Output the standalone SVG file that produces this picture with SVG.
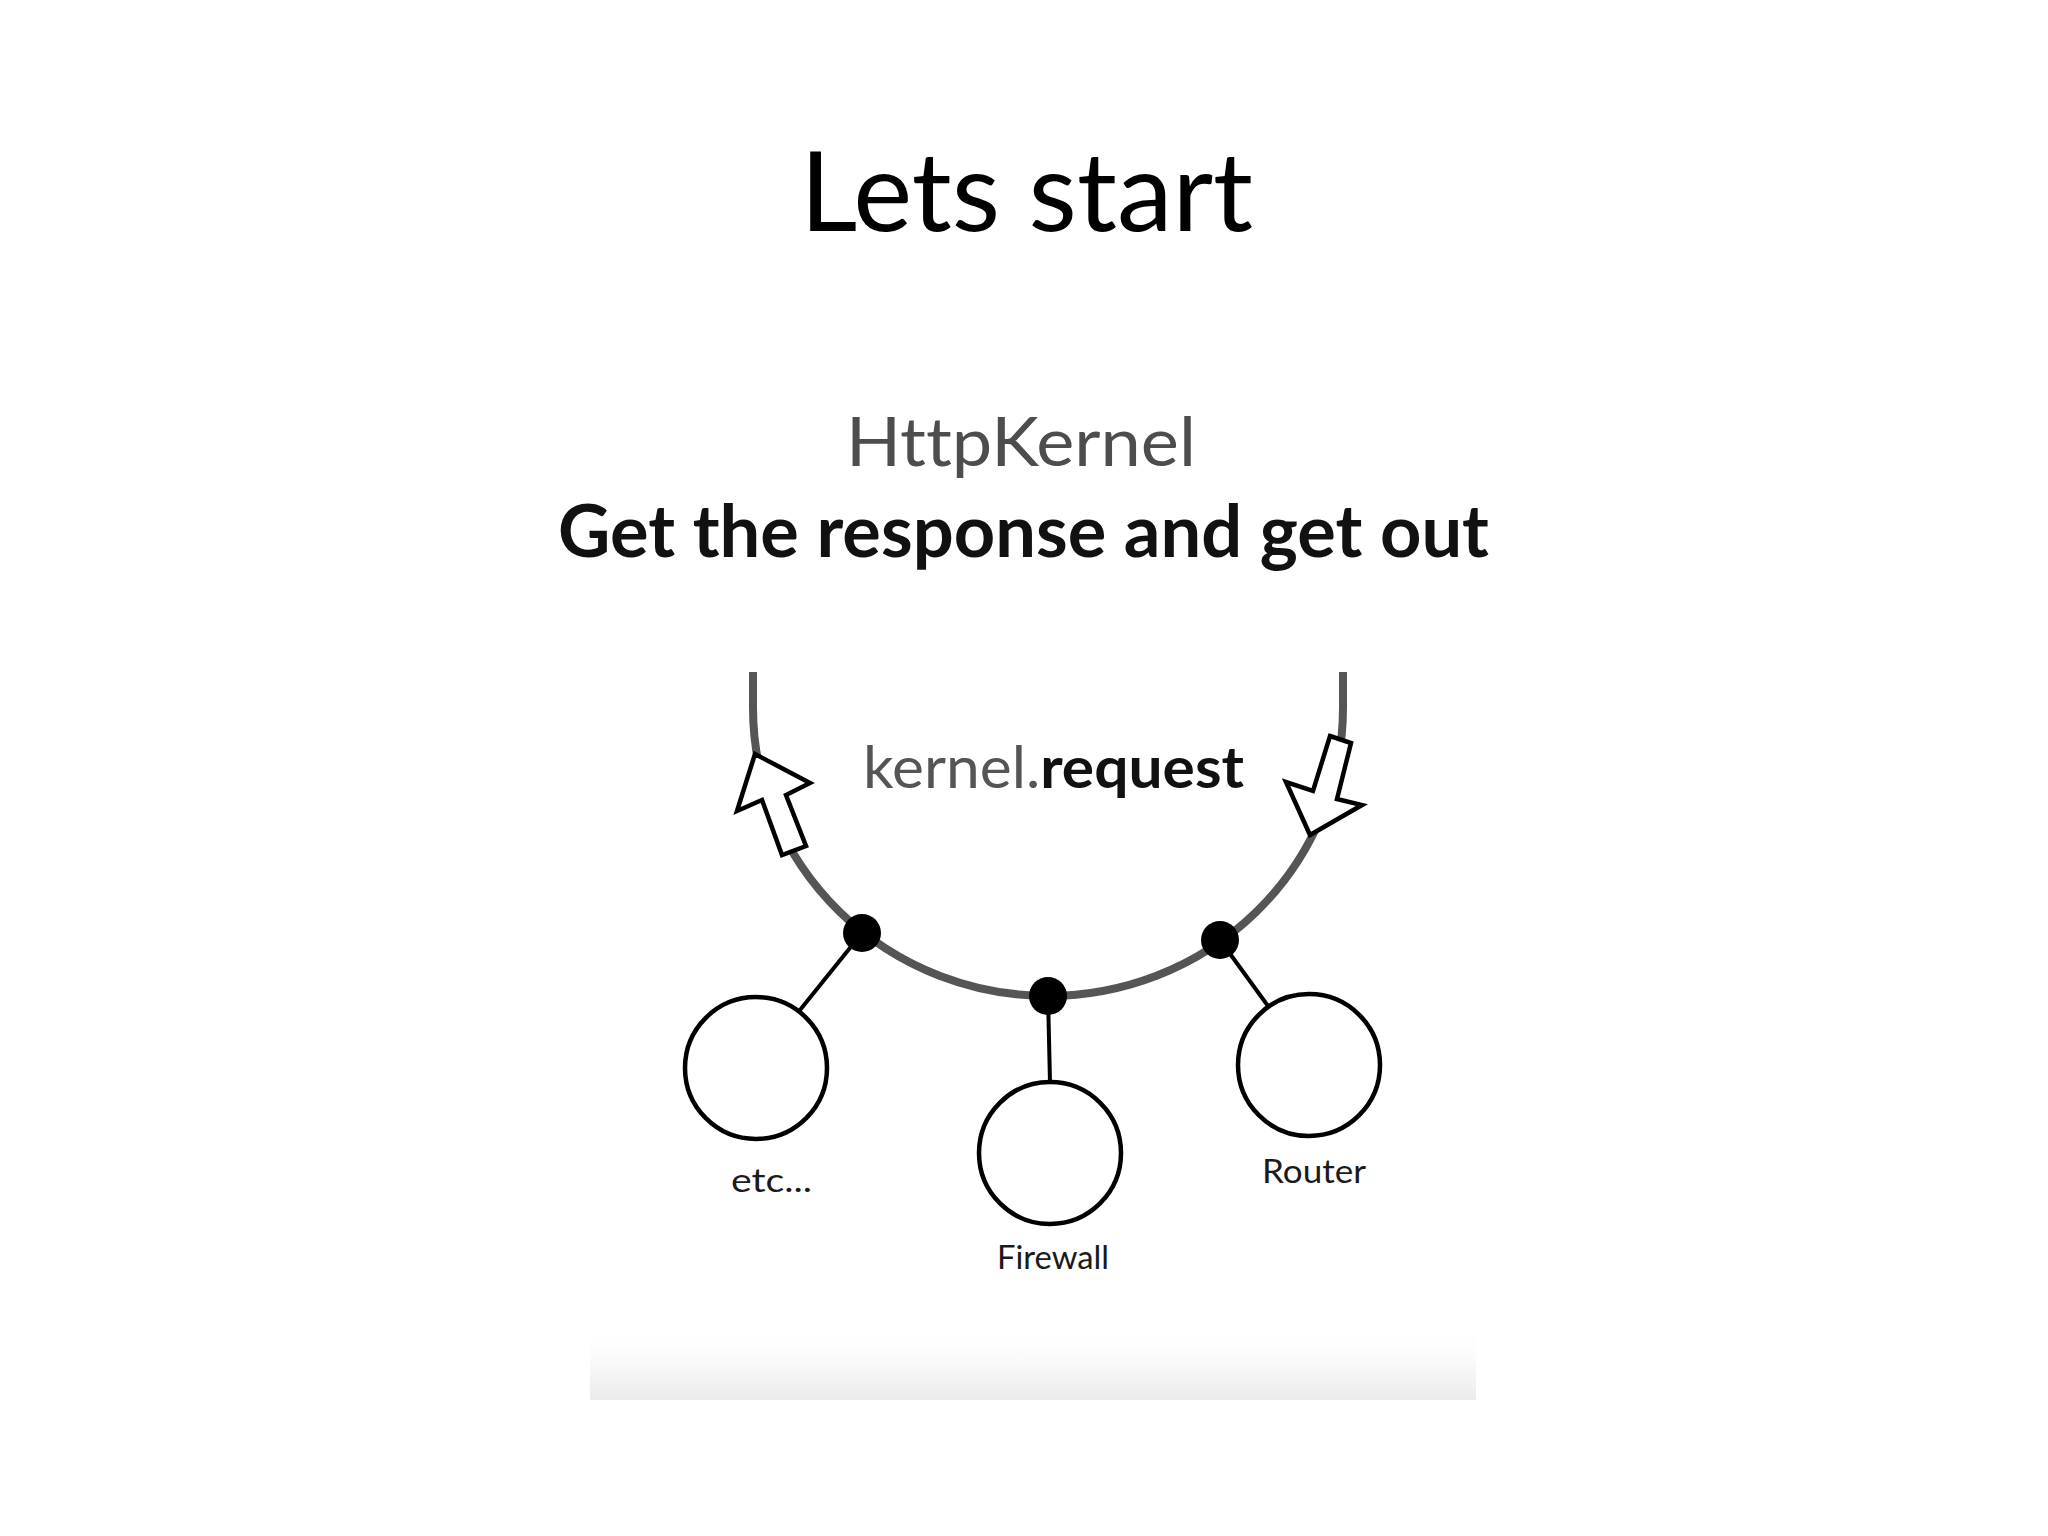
<svg xmlns="http://www.w3.org/2000/svg" width="2048" height="1536" viewBox="0 0 2048 1536">
  <defs>
    <linearGradient id="fade" x1="0" y1="0" x2="0" y2="1">
      <stop offset="0" stop-color="#ffffff"/>
      <stop offset="0.4" stop-color="#fafafa"/>
      <stop offset="1" stop-color="#ebebeb"/>
    </linearGradient>
    <style>
      text { font-variant-ligatures: none; font-feature-settings: "liga" 0, "dlig" 0; }
      .title { font-family: Lato, "Open Sans", "Liberation Sans", sans-serif; font-size: 110px; fill: #000; }
      .head { font-family: Lato, "Noto Sans", "Liberation Sans", sans-serif; }
      .node { fill: #fff; stroke: #000; stroke-width: 4.5; }
      .dot { fill: #000; }
      .link { stroke: #000; stroke-width: 4; fill: none; }
      .loop { stroke: #555; stroke-width: 8; fill: none; }
      .arrow { fill: #fff; stroke: #000; stroke-width: 4.5; stroke-linejoin: miter; }
      .label { font-family: Lato, "Noto Sans", "Liberation Sans", sans-serif; font-size: 32px; fill: #1a1a1a; }
    </style>
  </defs>
  <rect width="2048" height="1536" fill="#fff"/>

  <text class="title" x="800" y="231" textLength="453" lengthAdjust="spacingAndGlyphs">Lets start</text>

  <text class="head" x="846" y="466" font-size="67" fill="#4d4d4d" textLength="350" lengthAdjust="spacingAndGlyphs">HttpKernel</text>
  <text class="head" x="558" y="557" font-size="72" font-weight="bold" fill="#111" textLength="931" lengthAdjust="spacingAndGlyphs">Get the response and get out</text>

  <rect x="590" y="1335" width="886" height="65" fill="url(#fade)"/>

  <g id="connectors">
    <path class="loop" d="M 753 672 L 753 708 A 295 288 0 0 0 1343 708 L 1343 672"/>
    <line class="link" x1="862" y1="933" x2="800" y2="1010"/>
    <line class="link" x1="1048" y1="996" x2="1050" y2="1082"/>
    <line class="link" x1="1220" y1="940" x2="1268" y2="1006"/>
  </g>

  <g id="arrow-out">
    <polygon class="arrow" points="755,754 810,783 786,795 806,846 782,855 762,800 737,811"/>
  </g>
  <g id="arrow-in">
    <polygon class="arrow" points="1330,736 1351,743 1337,799 1362,805 1310,835 1286,782 1313,791"/>
  </g>

  <g id="event">
    <text class="head" x="863" y="788" font-size="58" textLength="381" lengthAdjust="spacingAndGlyphs"><tspan fill="#555">kernel.</tspan><tspan fill="#111" font-weight="bold">request</tspan></text>
  </g>

  <g id="dot-etc"><circle class="dot" cx="862" cy="933" r="19"/></g>
  <g id="dot-firewall"><circle class="dot" cx="1048" cy="996" r="19"/></g>
  <g id="dot-router"><circle class="dot" cx="1220" cy="940" r="19"/></g>

  <g id="node-etc">
    <circle class="node" cx="756" cy="1068" r="71"/>
    <text class="label" x="731" y="1192" textLength="81" lengthAdjust="spacingAndGlyphs">etc...</text>
  </g>
  <g id="node-firewall">
    <circle class="node" cx="1050" cy="1153" r="71"/>
    <text class="label" x="997" y="1269" textLength="112" lengthAdjust="spacingAndGlyphs">Firewall</text>
  </g>
  <g id="node-router">
    <circle class="node" cx="1309" cy="1065" r="71"/>
    <text class="label" x="1262" y="1183" textLength="104" lengthAdjust="spacingAndGlyphs">Router</text>
  </g>
</svg>
